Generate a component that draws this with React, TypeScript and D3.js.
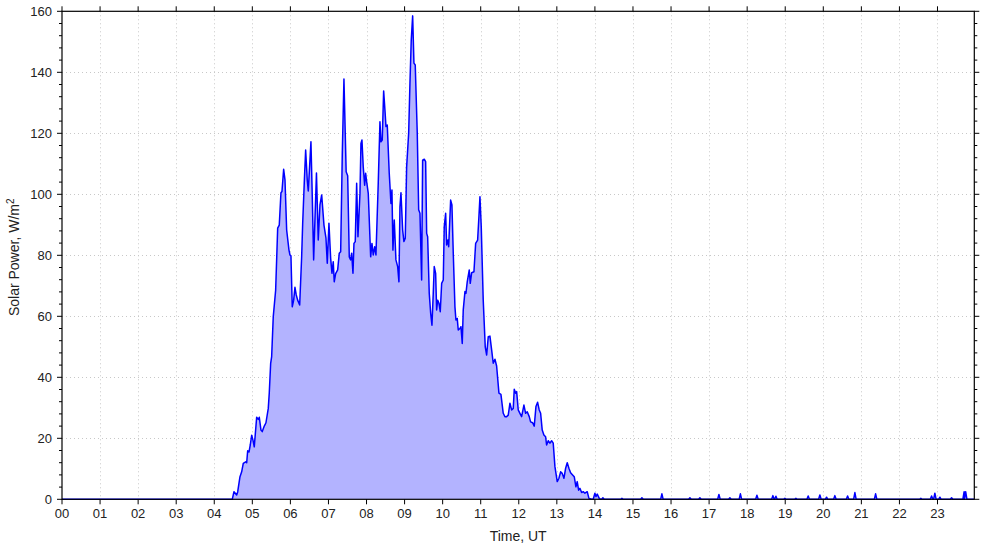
import React from "react";
import * as d3 from "d3";

// Hour tick labels
const hourLabels = d3.range(0, 24).map((h) => String(h).padStart(2, "0"));
const yMajor = [0, 20, 40, 60, 80, 100, 120, 140, 160];

// Daytime series (hours UT, W/m^2)
const dayTimes = [
  0, 4.473, 4.518, 4.589, 4.615, 4.676, 4.72, 4.762, 4.825, 4.852, 4.878, 4.912, 4.946, 4.983,
  5.017, 5.051, 5.114, 5.156, 5.183, 5.227, 5.261, 5.314, 5.358, 5.419, 5.445, 5.482, 5.508,
  5.55, 5.613, 5.666, 5.708, 5.752, 5.779, 5.823, 5.858, 5.902, 5.963, 5.989, 6.015, 6.049,
  6.086, 6.12, 6.154, 6.191, 6.244, 6.296, 6.323, 6.364, 6.401, 6.443, 6.47, 6.54, 6.575,
  6.611, 6.685, 6.732, 6.777, 6.822, 6.882, 6.935, 6.969, 7.013, 7.058, 7.092, 7.126, 7.152,
  7.189, 7.242, 7.284, 7.321, 7.363, 7.407, 7.465, 7.505, 7.547, 7.583, 7.61, 7.644, 7.67,
  7.704, 7.741, 7.775, 7.828, 7.854, 7.88, 7.914, 7.951, 7.977, 8.004, 8.046, 8.109, 8.143,
  8.177, 8.214, 8.248, 8.308, 8.353, 8.379, 8.413, 8.45, 8.484, 8.511, 8.545, 8.597, 8.642,
  8.668, 8.694, 8.729, 8.773, 8.818, 8.852, 8.878, 8.905, 8.949, 8.983, 9.018, 9.054, 9.107,
  9.141, 9.175, 9.212, 9.246, 9.28, 9.333, 9.37, 9.404, 9.448, 9.474, 9.517, 9.553, 9.58,
  9.606, 9.648, 9.685, 9.719, 9.753, 9.779, 9.816, 9.842, 9.869, 9.903, 9.937, 9.974, 10.016,
  10.042, 10.079, 10.105, 10.139, 10.158, 10.21, 10.244, 10.279, 10.323, 10.349, 10.383,
  10.41, 10.454, 10.481, 10.515, 10.541, 10.586, 10.612, 10.646, 10.699, 10.725, 10.762,
  10.822, 10.867, 10.919, 10.953, 10.98, 11.014, 11.066, 11.119, 11.156, 11.198, 11.242,
  11.287, 11.329, 11.374, 11.418, 11.479, 11.531, 11.592, 11.636, 11.681, 11.723, 11.768,
  11.812, 11.855, 11.881, 11.918, 11.944, 11.986, 12.03, 12.075, 12.135, 12.18, 12.222,
  12.275, 12.311, 12.364, 12.406, 12.451, 12.495, 12.537, 12.574, 12.616, 12.66, 12.705,
  12.731, 12.774, 12.818, 12.863, 12.905, 12.95, 13.01, 13.055, 13.099, 13.141, 13.186,
  13.231, 13.273, 13.317, 13.362, 13.414, 13.457, 13.501, 13.535, 13.572, 13.606, 13.651,
  13.693, 13.738, 13.798, 13.843, 13.914, 13.956, 14.0, 14.027, 14.061, 14.114, 14.158,
];
const dayValues = [
  0, 0, 2.5, 1.4, 2.4, 7.4, 9, 11.8, 12.3, 12, 15.9, 15.5, 17.8, 21,
  19.4, 17.2, 26.9, 26.2, 26.9, 22.7, 22.2, 24, 25.1, 29.8, 34.8, 44.6, 46.8,
  59.9, 68.6, 88.9, 89.9, 100.5, 100.9, 108.2, 104.7, 88.3, 81.7, 80.1, 79.8, 63.1,
  65.3, 69.5, 67, 65.3, 63.7, 79.5, 90.5, 103.6, 114.5, 104.7, 101.1, 117.2, 99.2,
  78.5, 107, 85, 96.5, 99.8, 89.9, 85.6, 77.4, 90.5, 79, 74.1, 77.9, 71.3,
  74, 75.2, 80.7, 81.2, 112.9, 137.8, 107.4, 106.1, 79.5, 78.5, 80.7, 74.1, 83.9,
  84.5, 103.6, 86.1, 100.3, 116.7, 117.8, 109, 103, 106.9, 104.1, 100.3, 79.5, 83.9,
  80.1, 82.8, 80.1, 103.6, 123.8, 117.2, 117.8, 133.9, 127.6, 122.2, 122.7, 106.9, 97,
  101.4, 81.7, 91.6, 78.5, 76.3, 71.3, 95.9, 100.5, 88.3, 84.5, 85.6, 109, 120,
  136.4, 150.6, 158.5, 143, 142.4, 120, 94.9, 93.8, 71.9, 111.2, 111.5, 110.7, 87.2,
  86.1, 67.5, 61, 57.1, 67.5, 76.3, 74.1, 62.1, 65.3, 64.3, 61.5, 70.8, 71.9,
  89.4, 93.8, 83.4, 85, 82.8, 98.1, 96.5, 80.7, 63.1, 58.8, 59.3,
  55.5, 56, 56.6, 51.1, 62.1, 68.1, 67.5, 71.3, 75.2, 70.8, 74.3,
  74.6, 83.9, 85, 92.7, 99.2, 89.4, 65.3, 50, 47.3, 53.3, 53.5,
  49, 44.6, 45.9, 43.7, 34.8, 34.4, 28.2, 27.1, 27.1, 27.6, 31.5,
  29.3, 29.8, 36.1, 34.8, 35.3, 29.3, 28.2, 27.1, 30.9, 28.2, 28.7,
  27.1, 25.4, 25.1, 24, 30.4, 31.8, 29.3, 28.2, 22.7, 21.1, 20.5,
  17.8, 19.2, 18.4, 19.2, 18.4, 10.7, 5.8, 6.9, 9, 8.5, 6.9,
  10.2, 12, 10.2, 8.7, 8, 7.4, 4.1, 5.8, 3, 3.6, 2.2,
  2.5, 2, 2.5, 0.3, 0, 0, 2, 0.9, 1.7, 0.3, 0,
];

// Small night-time spikes after 14 UT
const blipTimes = [
  14.21, 14.71, 15.235, 15.76, 16.496, 16.758, 17.258, 17.546, 17.822, 18.256, 18.676,
  18.755, 18.991, 19.28, 19.603, 19.91, 20.086, 20.304, 20.638, 20.83, 21.374, 22.563,
  22.845, 22.931, 23.063, 23.37, 23.7, 23.74,
];
const blipValues = [
  0.5, 0.3, 0.5, 1.8, 0.5, 0.5, 1.6, 0.5, 1.8, 1.3, 1.2,
  1.0, 0.3, 0.3, 1.1, 1.4, 0.7, 1.2, 1.1, 2.2, 1.8, 0.3,
  1.1, 2.0, 0.7, 0.5, 2.5, 2.5,
];
const endTime = 23.967;

const W = 985;
const H = 547;
const left = 62;
const right = 974.3;
const top = 11.3;
const bottom = 499.3;
const FONT = "'Liberation Sans', Arial, sans-serif";

export default function App() {
  const x = d3.scaleLinear().domain([0, endTime]).range([left, right]);
  const y = d3.scaleLinear().domain([0, 160]).range([bottom, top]);

  const pts: [number, number][] = dayTimes.map((t, i) => [t, dayValues[i]]);
  const step = 1 / 30;
  blipTimes.forEach((t, i) => {
    const prev = pts[pts.length - 1];
    if (prev[0] < t - step) pts.push([t - step, 0]);
    pts.push([t, blipValues[i]]);
    if (i === blipTimes.length - 1 || blipTimes[i + 1] > t + 2 * step) pts.push([t + step, 0]);
  });
  pts.push([endTime, 0]);

  const line = d3.line<[number, number]>().x((d) => x(d[0])).y((d) => y(d[1]));
  const area = d3
    .area<[number, number]>()
    .x((d) => x(d[0]))
    .y0(y(0))
    .y1((d) => y(d[1]));

  const yMinor = d3.range(0, 161, 4).filter((v) => v % 20 !== 0);
  const hours = d3.range(0, 24);

  return (
    <svg
      width={W}
      height={H}
      style={{ position: "absolute", left: 0, top: 0, background: "#fff" }}
      fontFamily={FONT}
    >
      {/* grid */}
      <g stroke="#c8c8c8" strokeWidth={1} strokeDasharray="1,3">
        {hours.slice(1).map((h) => (
          <line key={"gx" + h} x1={Math.round(x(h)) + 0.5} x2={Math.round(x(h)) + 0.5} y1={top} y2={bottom} />
        ))}
        {yMajor.slice(1, -1).map((v) => (
          <line key={"gy" + v} x1={left} x2={right} y1={Math.round(y(v)) + 0.5} y2={Math.round(y(v)) + 0.5} />
        ))}
      </g>

      {/* data */}
      <path d={area(pts) || ""} fill="#b3b3ff" stroke="none" />
      <path d={line(pts) || ""} fill="none" stroke="#0000ff" strokeWidth={1.5} strokeLinejoin="round" />

      {/* frame */}
      <rect x={left} y={top} width={right - left} height={bottom - top} fill="none" stroke="#000" strokeWidth={1.2} />

      {/* x ticks top & bottom */}
      <g stroke="#000" strokeWidth={1}>
        {hours.map((h) => (
          <g key={"xt" + h}>
            <line x1={x(h)} x2={x(h)} y1={bottom} y2={bottom + 5} />
            <line x1={x(h)} x2={x(h)} y1={top} y2={top - 5} />
          </g>
        ))}
        {yMajor.map((v) => (
          <g key={"yt" + v}>
            <line x1={left - 5} x2={left} y1={y(v)} y2={y(v)} />
            <line x1={right} x2={right + 5} y1={y(v)} y2={y(v)} />
          </g>
        ))}
        {yMinor.map((v) => (
          <g key={"ym" + v}>
            <line x1={left - 3} x2={left} y1={y(v)} y2={y(v)} />
            <line x1={right} x2={right + 3} y1={y(v)} y2={y(v)} />
          </g>
        ))}
      </g>

      {/* tick labels */}
      <g fontSize={13} fill="#222">
        {hours.map((h) => (
          <text key={"xl" + h} x={x(h)} y={bottom + 19} textAnchor="middle">
            {hourLabels[h]}
          </text>
        ))}
        {yMajor.map((v) => (
          <text key={"yl" + v} x={left - 10} y={y(v)} dy="0.35em" textAnchor="end">
            {v}
          </text>
        ))}
      </g>

      {/* axis titles */}
      <text x={(left + right) / 2} y={541} textAnchor="middle" fontSize={14} fill="#222">
        Time, UT
      </text>
      <text
        transform={`translate(19, ${(top + bottom) / 2 + 2}) rotate(-90)`}
        textAnchor="middle"
        fontSize={14}
        fill="#222"
      >
        Solar Power, W/m
        <tspan dy={-5} fontSize={10}>
          2
        </tspan>
      </text>
    </svg>
  );
}
